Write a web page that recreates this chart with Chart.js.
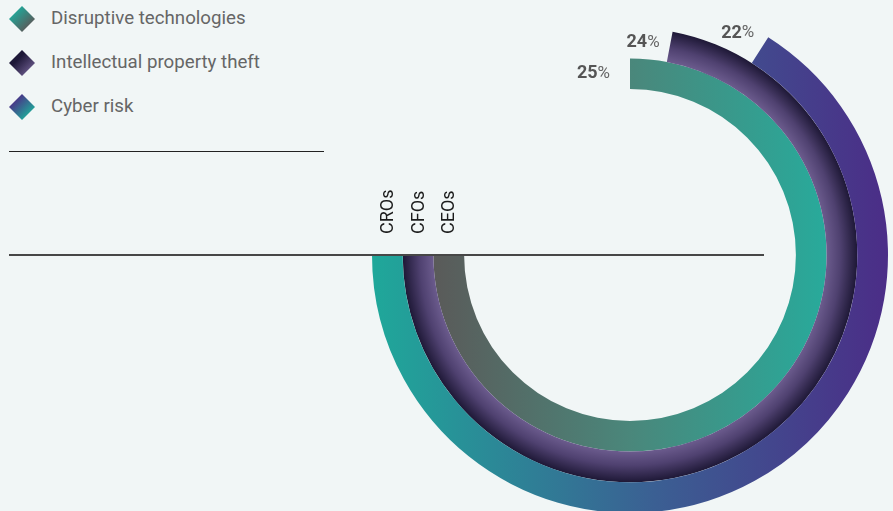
<!DOCTYPE html>
<html>
<head>
<meta charset="utf-8">
<script src="https://cdn.jsdelivr.net/npm/chart.js@4.4.1/dist/chart.umd.min.js"></script>
<style>
    html, body { margin: 0; padding: 0; background: #f1f6f6; overflow: hidden; }
    body { width: 893px; height: 511px; position: relative; font-family: Roboto, "Noto Sans", sans-serif; }
    #ring-chart { position: absolute; left: 0; top: -3px; }
    #legend { position: absolute; left: 9px; top: 6px; }
    .item { position: relative; height: 26px; margin-bottom: 18px; }
    .item .mark { position: absolute; left: 0; top: 0; width: 26px; height: 26px;
        clip-path: polygon(50% 0, 100% 50%, 50% 100%, 0 50%); }
    .item span { position: absolute; left: 42px; top: 1px; font-size: 18.7px; color: #666; white-space: nowrap; }
    #rule { position: absolute; left: 9px; top: 151px; width: 315px; height: 0; border-top: 1.5px solid #222; }
</style>
</head>
<body>
<div id="legend"></div>
<div id="rule"></div>
<canvas id="ring-chart" width="893" height="516"></canvas>
<script>
// outer ring first, as Chart.js stacks datasets from the outside in
var rings = ["CROs", "CFOs", "CEOs"];
var risks = ["Cyber risk", "Intellectual property theft", "Disruptive technologies"];
var shares = [22, 24, 25];
var fullScale = 100 / 3; // 25% takes three quarters of the circle
var cutout = 0.643;

var legendGrads = [
    "linear-gradient(135deg, #4b2f87 20%, #20a89a 80%)",
    "linear-gradient(135deg, #1e1838 35%, #6c5c8e 85%)",
    "linear-gradient(135deg, #20a89a 20%, #5a5a5a 80%)"
];

var legend = document.getElementById("legend");
for (var i = risks.length - 1; i >= 0; i--) {
    var row = document.createElement("div");
    row.className = "item";
    row.innerHTML = '<div class="mark" style="background:' + legendGrads[i] + '"></div><span>' + risks[i] + '</span>';
    legend.appendChild(row);
}

function ringGeom(chart, i) {
    var a = chart.chartArea;
    var R = Math.min(a.right - a.left, a.bottom - a.top) / 2;
    var t = (R - R * cutout) / rings.length;
    return { cx: (a.left + a.right) / 2, cy: (a.top + a.bottom) / 2, outer: R - i * t, inner: R - (i + 1) * t };
}

function ringFill(context) {
    if (context.dataIndex === 0) return "rgba(0,0,0,0)";
    var chart = context.chart;
    if (!chart.chartArea) return "#888";
    var g0 = ringGeom(chart, context.datasetIndex);
    var g;
    if (context.datasetIndex === 1) {
        g = chart.ctx.createRadialGradient(g0.cx, g0.cy, g0.inner, g0.cx, g0.cy, g0.outer);
        g.addColorStop(0, "#6b5b8d");
        g.addColorStop(0.45, "#4f4170");
        g.addColorStop(1, "#1e1836");
        return g;
    }
    g = chart.ctx.createLinearGradient(g0.cx - g0.outer, 0, g0.cx + g0.outer, 0);
    if (context.datasetIndex === 0) {
        g.addColorStop(0, "#1fa89a");
        g.addColorStop(0.55, "#3b5f93");
        g.addColorStop(1, "#4b2d87");
    } else {
        g.addColorStop(0, "#5a5a59");
        g.addColorStop(0.5, "#4a877b");
        g.addColorStop(1, "#28aa9b");
    }
    return g;
}

var pctNudge = [[-14, -4], [-13, 11], [-20, 15]];

var decor = {
    id: "decor",
    afterDatasetsDraw: function (chart) {
        var ctx = chart.ctx;
        ctx.save();
        rings.forEach(function (name, i) {
            var g = ringGeom(chart, i);
            var cx = g.cx, cy = g.cy;
            if (i === 0) {
                ctx.strokeStyle = "#474747";
                ctx.lineWidth = 2;
                ctx.beginPath();
                ctx.moveTo(9, cy);
                ctx.lineTo(cx + 134, cy);
                ctx.stroke();
            }
            var mid = (g.outer + g.inner) / 2;
            ctx.save();
            ctx.translate(cx - mid, cy - 21);
            ctx.rotate(-Math.PI / 2);
            ctx.font = "18px Roboto";
            ctx.fillStyle = "#1c1c1c";
            ctx.textAlign = "left";
            ctx.textBaseline = "middle";
            ctx.fillText(name, 0, 1);
            ctx.restore();

            var arc = chart.getDatasetMeta(i).data[1];
            var ang = arc.startAngle;
            var x = cx + g.outer * Math.cos(ang) + pctNudge[i][0];
            var y = cy + g.outer * Math.sin(ang) + pctNudge[i][1];
            ctx.textBaseline = "middle";
            ctx.textAlign = "right";
            ctx.font = "17px Roboto";
            ctx.fillStyle = "#666";
            var pw = ctx.measureText("%").width;
            ctx.fillText("%", x, y);
            ctx.font = "bold 18px Roboto";
            ctx.fillStyle = "#555";
            ctx.fillText(String(shares[i]), x - pw, y);
        });
        ctx.restore();
    }
};

new Chart("ring-chart", {
    type: "doughnut",
    data: {
        labels: ["", ""],
        datasets: shares.map(function (v, i) {
            return {
                label: rings[i],
                data: [fullScale - v, v],
                backgroundColor: ringFill,
                borderWidth: 0
            };
        })
    },
    options: {
        responsive: false,
        animation: false,
        events: [],
        rotation: -90,
        cutout: (cutout * 100) + "%",
        layout: { padding: { left: 372, right: 5, top: 0, bottom: 0 } },
        plugins: { legend: { display: false }, tooltip: { enabled: false } }
    },
    plugins: [decor]
});
</script>
</body>
</html>
